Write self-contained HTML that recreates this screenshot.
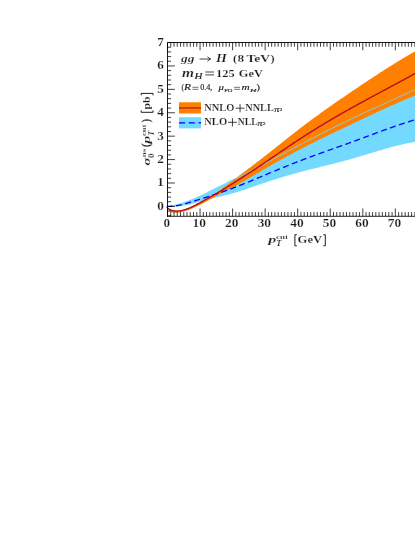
<!DOCTYPE html>
<html><head><meta charset="utf-8"><title>plot</title>
<style>html,body{margin:0;padding:0;background:#fff;}body{width:415px;height:537px;position:relative;overflow:hidden;font-family:"Liberation Serif",serif;}</style>
</head><body>
<svg width="415" height="537" viewBox="0 0 415 537" style="position:absolute;left:0;top:0">
<defs><filter id="idf" x="0" y="0" width="415" height="537" filterUnits="userSpaceOnUse"><feOffset dx="0" dy="0"/></filter></defs>
<path d="M166.80,206.13 L167.21,206.08 L167.63,206.04 L168.04,205.99 L168.45,205.94 L168.87,205.89 L169.28,205.83 L169.69,205.77 L170.11,205.70 L170.52,205.64 L170.93,205.57 L171.35,205.50 L171.76,205.42 L172.17,205.34 L172.59,205.26 L173.00,205.18 L173.41,205.10 L173.83,205.01 L174.24,204.92 L174.65,204.83 L175.07,204.73 L175.48,204.64 L175.89,204.54 L176.31,204.43 L176.72,204.33 L177.13,204.23 L177.55,204.12 L177.96,204.01 L178.37,203.89 L178.79,203.78 L179.20,203.66 L179.61,203.54 L180.03,203.42 L180.44,203.30 L180.85,203.17 L181.27,203.04 L181.68,202.91 L182.09,202.78 L182.51,202.65 L182.92,202.51 L183.33,202.37 L183.75,202.23 L184.16,202.09 L184.57,201.95 L184.99,201.80 L185.40,201.65 L185.81,201.50 L186.23,201.35 L186.64,201.20 L187.05,201.05 L187.47,200.89 L187.88,200.73 L188.29,200.58 L188.71,200.42 L189.12,200.25 L189.53,200.09 L189.95,199.93 L190.36,199.76 L190.77,199.60 L191.19,199.43 L191.60,199.26 L192.01,199.09 L192.43,198.92 L192.84,198.75 L193.25,198.58 L193.67,198.40 L194.08,198.23 L194.49,198.05 L194.91,197.88 L195.32,197.70 L195.73,197.52 L196.15,197.34 L196.56,197.16 L196.97,196.98 L197.39,196.80 L197.80,196.61 L198.21,196.43 L198.63,196.24 L199.04,196.05 L199.45,195.87 L199.87,195.68 L200.28,195.49 L200.69,195.30 L201.11,195.10 L201.52,194.91 L201.93,194.72 L202.35,194.52 L202.76,194.32 L203.17,194.13 L203.59,193.93 L204.00,193.73 L205.07,193.21 L206.14,192.68 L207.21,192.14 L208.28,191.61 L209.35,191.07 L210.42,190.52 L211.49,189.98 L212.56,189.43 L213.63,188.89 L214.70,188.35 L215.77,187.81 L216.84,187.28 L217.91,186.75 L218.98,186.22 L220.06,185.70 L221.13,185.19 L222.20,184.68 L223.27,184.18 L224.34,183.67 L225.41,183.17 L226.48,182.68 L227.55,182.18 L228.62,181.68 L229.69,181.19 L230.76,180.69 L231.83,180.19 L232.90,179.69 L233.97,179.19 L235.04,178.69 L236.11,178.18 L237.18,177.67 L238.25,177.16 L239.32,176.64 L240.39,176.12 L241.46,175.60 L242.53,175.07 L243.60,174.54 L244.67,174.01 L245.74,173.47 L246.81,172.94 L247.88,172.40 L248.95,171.86 L250.03,171.31 L251.10,170.77 L252.17,170.22 L253.24,169.67 L254.31,169.12 L255.38,168.56 L256.45,168.01 L257.52,167.45 L258.59,166.89 L259.66,166.33 L260.73,165.77 L261.80,165.21 L262.87,164.64 L263.94,164.08 L265.01,163.51 L266.08,162.95 L267.15,162.38 L268.22,161.81 L269.29,161.24 L270.36,160.67 L271.43,160.10 L272.50,159.53 L273.57,158.96 L274.64,158.38 L275.71,157.81 L276.78,157.24 L277.85,156.66 L278.92,156.09 L279.99,155.52 L281.07,154.94 L282.14,154.37 L283.21,153.79 L284.28,153.22 L285.35,152.64 L286.42,152.07 L287.49,151.50 L288.56,150.92 L289.63,150.35 L290.70,149.77 L291.77,149.20 L292.84,148.63 L293.91,148.06 L294.98,147.49 L296.05,146.92 L297.12,146.35 L298.19,145.78 L299.26,145.21 L300.33,144.64 L301.40,144.07 L302.47,143.51 L303.54,142.94 L304.61,142.38 L305.68,141.82 L306.75,141.25 L307.82,140.69 L308.89,140.13 L309.96,139.57 L311.04,139.02 L312.11,138.46 L313.18,137.90 L314.25,137.35 L315.32,136.80 L316.39,136.24 L317.46,135.69 L318.53,135.14 L319.60,134.59 L320.67,134.04 L321.74,133.50 L322.81,132.95 L323.88,132.41 L324.95,131.86 L326.02,131.32 L327.09,130.78 L328.16,130.24 L329.23,129.70 L330.30,129.17 L331.37,128.63 L332.44,128.10 L333.51,127.56 L334.58,127.03 L335.65,126.50 L336.72,125.97 L337.79,125.44 L338.86,124.92 L339.93,124.39 L341.01,123.87 L342.08,123.35 L343.15,122.83 L344.22,122.31 L345.29,121.79 L346.36,121.27 L347.43,120.76 L348.50,120.24 L349.57,119.73 L350.64,119.22 L351.71,118.71 L352.78,118.20 L353.85,117.70 L354.92,117.19 L355.99,116.69 L357.06,116.19 L358.13,115.69 L359.20,115.19 L360.27,114.69 L361.34,114.19 L362.41,113.69 L363.48,113.20 L364.55,112.70 L365.62,112.21 L366.69,111.71 L367.76,111.22 L368.83,110.73 L369.90,110.24 L370.97,109.75 L372.05,109.26 L373.12,108.77 L374.19,108.28 L375.26,107.79 L376.33,107.30 L377.40,106.81 L378.47,106.32 L379.54,105.83 L380.61,105.35 L381.68,104.86 L382.75,104.37 L383.82,103.88 L384.89,103.40 L385.96,102.91 L387.03,102.42 L388.10,101.93 L389.17,101.44 L390.24,100.95 L391.31,100.46 L392.38,99.97 L393.45,99.48 L394.52,98.99 L395.59,98.50 L396.66,98.01 L397.73,97.52 L398.80,97.03 L399.87,96.53 L400.94,96.04 L402.02,95.54 L403.09,95.04 L404.16,94.55 L405.23,94.05 L406.30,93.55 L407.37,93.05 L408.44,92.55 L409.51,92.04 L410.58,91.54 L411.65,91.03 L412.72,90.53 L413.79,90.02 L414.86,89.51 L415.93,89.00 L417.00,88.48 L417.00,141.53 L415.93,141.70 L414.86,141.87 L413.79,142.05 L412.72,142.24 L411.65,142.43 L410.58,142.63 L409.51,142.84 L408.44,143.05 L407.37,143.27 L406.30,143.50 L405.23,143.73 L404.16,143.96 L403.09,144.20 L402.02,144.45 L400.94,144.70 L399.87,144.95 L398.80,145.21 L397.73,145.48 L396.66,145.75 L395.59,146.02 L394.52,146.30 L393.45,146.58 L392.38,146.86 L391.31,147.15 L390.24,147.44 L389.17,147.74 L388.10,148.04 L387.03,148.34 L385.96,148.64 L384.89,148.95 L383.82,149.25 L382.75,149.56 L381.68,149.88 L380.61,150.19 L379.54,150.51 L378.47,150.83 L377.40,151.15 L376.33,151.47 L375.26,151.79 L374.19,152.11 L373.12,152.44 L372.05,152.76 L370.97,153.09 L369.90,153.41 L368.83,153.74 L367.76,154.06 L366.69,154.39 L365.62,154.71 L364.55,155.04 L363.48,155.36 L362.41,155.68 L361.34,156.00 L360.27,156.33 L359.20,156.65 L358.13,156.96 L357.06,157.28 L355.99,157.59 L354.92,157.91 L353.85,158.22 L352.78,158.53 L351.71,158.83 L350.64,159.14 L349.57,159.44 L348.50,159.74 L347.43,160.03 L346.36,160.32 L345.29,160.61 L344.22,160.90 L343.15,161.19 L342.08,161.47 L341.01,161.75 L339.93,162.03 L338.86,162.31 L337.79,162.59 L336.72,162.86 L335.65,163.13 L334.58,163.41 L333.51,163.68 L332.44,163.95 L331.37,164.21 L330.30,164.48 L329.23,164.75 L328.16,165.01 L327.09,165.28 L326.02,165.54 L324.95,165.81 L323.88,166.07 L322.81,166.33 L321.74,166.60 L320.67,166.86 L319.60,167.13 L318.53,167.39 L317.46,167.65 L316.39,167.92 L315.32,168.18 L314.25,168.45 L313.18,168.72 L312.11,168.98 L311.04,169.25 L309.96,169.52 L308.89,169.79 L307.82,170.06 L306.75,170.34 L305.68,170.61 L304.61,170.89 L303.54,171.17 L302.47,171.45 L301.40,171.73 L300.33,172.01 L299.26,172.30 L298.19,172.59 L297.12,172.88 L296.05,173.17 L294.98,173.47 L293.91,173.77 L292.84,174.07 L291.77,174.37 L290.70,174.67 L289.63,174.98 L288.56,175.29 L287.49,175.60 L286.42,175.91 L285.35,176.23 L284.28,176.54 L283.21,176.86 L282.14,177.18 L281.07,177.51 L279.99,177.83 L278.92,178.16 L277.85,178.49 L276.78,178.83 L275.71,179.16 L274.64,179.50 L273.57,179.84 L272.50,180.18 L271.43,180.52 L270.36,180.87 L269.29,181.22 L268.22,181.57 L267.15,181.92 L266.08,182.28 L265.01,182.63 L263.94,182.99 L262.87,183.35 L261.80,183.72 L260.73,184.08 L259.66,184.45 L258.59,184.82 L257.52,185.19 L256.45,185.57 L255.38,185.94 L254.31,186.31 L253.24,186.69 L252.17,187.06 L251.10,187.44 L250.03,187.81 L248.95,188.18 L247.88,188.55 L246.81,188.92 L245.74,189.28 L244.67,189.65 L243.60,190.01 L242.53,190.36 L241.46,190.71 L240.39,191.06 L239.32,191.40 L238.25,191.73 L237.18,192.07 L236.11,192.39 L235.04,192.71 L233.97,193.02 L232.90,193.32 L231.83,193.62 L230.76,193.91 L229.69,194.20 L228.62,194.48 L227.55,194.76 L226.48,195.03 L225.41,195.30 L224.34,195.56 L223.27,195.82 L222.20,196.08 L221.13,196.33 L220.06,196.58 L218.98,196.83 L217.91,197.08 L216.84,197.33 L215.77,197.57 L214.70,197.82 L213.63,198.06 L212.56,198.31 L211.49,198.56 L210.42,198.81 L209.35,199.07 L208.28,199.33 L207.21,199.60 L206.14,199.87 L205.07,200.15 L204.00,200.44 L203.59,200.55 L203.17,200.67 L202.76,200.78 L202.35,200.90 L201.93,201.02 L201.52,201.13 L201.11,201.25 L200.69,201.37 L200.28,201.49 L199.87,201.61 L199.45,201.73 L199.04,201.85 L198.63,201.97 L198.21,202.10 L197.80,202.22 L197.39,202.34 L196.97,202.46 L196.56,202.58 L196.15,202.70 L195.73,202.81 L195.32,202.93 L194.91,203.05 L194.49,203.16 L194.08,203.28 L193.67,203.39 L193.25,203.50 L192.84,203.61 L192.43,203.72 L192.01,203.83 L191.60,203.94 L191.19,204.04 L190.77,204.14 L190.36,204.24 L189.95,204.34 L189.53,204.44 L189.12,204.54 L188.71,204.63 L188.29,204.72 L187.88,204.81 L187.47,204.90 L187.05,204.99 L186.64,205.08 L186.23,205.16 L185.81,205.24 L185.40,205.32 L184.99,205.40 L184.57,205.48 L184.16,205.55 L183.75,205.62 L183.33,205.69 L182.92,205.76 L182.51,205.83 L182.09,205.90 L181.68,205.96 L181.27,206.02 L180.85,206.08 L180.44,206.14 L180.03,206.20 L179.61,206.25 L179.20,206.31 L178.79,206.36 L178.37,206.40 L177.96,206.45 L177.55,206.49 L177.13,206.53 L176.72,206.57 L176.31,206.60 L175.89,206.64 L175.48,206.67 L175.07,206.69 L174.65,206.72 L174.24,206.74 L173.83,206.76 L173.41,206.77 L173.00,206.79 L172.59,206.79 L172.17,206.80 L171.76,206.80 L171.35,206.80 L170.93,206.80 L170.52,206.80 L170.11,206.79 L169.69,206.78 L169.28,206.76 L168.87,206.75 L168.45,206.73 L168.04,206.71 L167.63,206.68 L167.21,206.65 L166.80,206.62Z" fill="#73d9ff"/>
<path d="M166.80,206.52 L167.21,206.95 L167.63,207.36 L168.04,207.73 L168.45,208.07 L168.87,208.38 L169.28,208.66 L169.69,208.91 L170.11,209.14 L170.52,209.35 L170.93,209.53 L171.35,209.70 L171.76,209.84 L172.17,209.97 L172.59,210.08 L173.00,210.17 L173.41,210.26 L173.83,210.33 L174.24,210.39 L174.65,210.44 L175.07,210.48 L175.48,210.51 L175.89,210.54 L176.31,210.55 L176.72,210.56 L177.13,210.56 L177.55,210.55 L177.96,210.53 L178.37,210.50 L178.79,210.47 L179.20,210.43 L179.61,210.38 L180.03,210.33 L180.44,210.26 L180.85,210.19 L181.27,210.12 L181.68,210.04 L182.09,209.95 L182.51,209.85 L182.92,209.75 L183.33,209.64 L183.75,209.53 L184.16,209.41 L184.57,209.29 L184.99,209.16 L185.40,209.03 L185.81,208.89 L186.23,208.75 L186.64,208.60 L187.05,208.45 L187.47,208.29 L187.88,208.13 L188.29,207.96 L188.71,207.79 L189.12,207.62 L189.53,207.45 L189.95,207.27 L190.36,207.08 L190.77,206.90 L191.19,206.71 L191.60,206.51 L192.01,206.32 L192.43,206.12 L192.84,205.92 L193.25,205.72 L193.67,205.52 L194.08,205.31 L194.49,205.10 L194.91,204.89 L195.32,204.68 L195.73,204.46 L196.15,204.25 L196.56,204.03 L196.97,203.81 L197.39,203.59 L197.80,203.37 L198.21,203.15 L198.63,202.93 L199.04,202.70 L199.45,202.48 L199.87,202.25 L200.28,202.02 L200.69,201.80 L201.11,201.57 L201.52,201.34 L201.93,201.11 L202.35,200.89 L202.76,200.66 L203.17,200.43 L203.59,200.20 L204.00,199.98 L205.07,199.39 L206.14,198.79 L207.21,198.19 L208.28,197.59 L209.35,197.00 L210.42,196.40 L211.49,195.80 L212.56,195.17 L213.63,194.52 L214.70,193.85 L215.77,193.16 L216.84,192.46 L217.91,191.73 L218.98,190.98 L220.06,190.20 L221.13,189.40 L222.20,188.57 L223.27,187.70 L224.34,186.85 L225.41,186.06 L226.48,185.27 L227.55,184.47 L228.62,183.67 L229.69,182.86 L230.76,182.04 L231.83,181.23 L232.90,180.41 L233.97,179.59 L235.04,178.78 L236.11,177.96 L237.18,177.15 L238.25,176.34 L239.32,175.53 L240.39,174.72 L241.46,173.92 L242.53,173.11 L243.60,172.31 L244.67,171.50 L245.74,170.70 L246.81,169.90 L247.88,169.09 L248.95,168.29 L250.03,167.48 L251.10,166.67 L252.17,165.87 L253.24,165.06 L254.31,164.25 L255.38,163.43 L256.45,162.62 L257.52,161.80 L258.59,160.98 L259.66,160.16 L260.73,159.33 L261.80,158.51 L262.87,157.67 L263.94,156.84 L265.01,156.00 L266.08,155.17 L267.15,154.33 L268.22,153.48 L269.29,152.64 L270.36,151.79 L271.43,150.95 L272.50,150.10 L273.57,149.25 L274.64,148.40 L275.71,147.55 L276.78,146.70 L277.85,145.84 L278.92,144.99 L279.99,144.14 L281.07,143.29 L282.14,142.44 L283.21,141.58 L284.28,140.73 L285.35,139.88 L286.42,139.03 L287.49,138.19 L288.56,137.34 L289.63,136.50 L290.70,135.65 L291.77,134.81 L292.84,133.97 L293.91,133.13 L294.98,132.30 L296.05,131.47 L297.12,130.64 L298.19,129.81 L299.26,128.98 L300.33,128.16 L301.40,127.34 L302.47,126.53 L303.54,125.72 L304.61,124.91 L305.68,124.10 L306.75,123.30 L307.82,122.50 L308.89,121.71 L309.96,120.91 L311.04,120.12 L312.11,119.33 L313.18,118.55 L314.25,117.76 L315.32,116.98 L316.39,116.21 L317.46,115.43 L318.53,114.66 L319.60,113.89 L320.67,113.12 L321.74,112.35 L322.81,111.59 L323.88,110.82 L324.95,110.06 L326.02,109.31 L327.09,108.55 L328.16,107.80 L329.23,107.04 L330.30,106.29 L331.37,105.54 L332.44,104.80 L333.51,104.05 L334.58,103.31 L335.65,102.56 L336.72,101.82 L337.79,101.08 L338.86,100.34 L339.93,99.60 L341.01,98.87 L342.08,98.13 L343.15,97.40 L344.22,96.67 L345.29,95.93 L346.36,95.20 L347.43,94.47 L348.50,93.74 L349.57,93.01 L350.64,92.29 L351.71,91.56 L352.78,90.83 L353.85,90.11 L354.92,89.38 L355.99,88.66 L357.06,87.93 L358.13,87.21 L359.20,86.49 L360.27,85.77 L361.34,85.05 L362.41,84.33 L363.48,83.62 L364.55,82.90 L365.62,82.19 L366.69,81.47 L367.76,80.76 L368.83,80.05 L369.90,79.34 L370.97,78.64 L372.05,77.93 L373.12,77.23 L374.19,76.53 L375.26,75.83 L376.33,75.13 L377.40,74.43 L378.47,73.73 L379.54,73.04 L380.61,72.35 L381.68,71.66 L382.75,70.97 L383.82,70.29 L384.89,69.61 L385.96,68.93 L387.03,68.25 L388.10,67.57 L389.17,66.90 L390.24,66.22 L391.31,65.56 L392.38,64.89 L393.45,64.22 L394.52,63.56 L395.59,62.90 L396.66,62.25 L397.73,61.59 L398.80,60.94 L399.87,60.29 L400.94,59.65 L402.02,59.00 L403.09,58.36 L404.16,57.73 L405.23,57.09 L406.30,56.46 L407.37,55.83 L408.44,55.21 L409.51,54.59 L410.58,53.97 L411.65,53.35 L412.72,52.74 L413.79,52.13 L414.86,51.53 L415.93,50.93 L417.00,50.33 L417.00,94.76 L415.93,95.18 L414.86,95.61 L413.79,96.04 L412.72,96.47 L411.65,96.90 L410.58,97.34 L409.51,97.78 L408.44,98.22 L407.37,98.67 L406.30,99.12 L405.23,99.57 L404.16,100.02 L403.09,100.47 L402.02,100.93 L400.94,101.39 L399.87,101.85 L398.80,102.32 L397.73,102.78 L396.66,103.25 L395.59,103.72 L394.52,104.20 L393.45,104.67 L392.38,105.15 L391.31,105.63 L390.24,106.11 L389.17,106.59 L388.10,107.07 L387.03,107.56 L385.96,108.04 L384.89,108.53 L383.82,109.02 L382.75,109.51 L381.68,110.00 L380.61,110.50 L379.54,110.99 L378.47,111.49 L377.40,111.99 L376.33,112.48 L375.26,112.98 L374.19,113.48 L373.12,113.99 L372.05,114.49 L370.97,114.99 L369.90,115.50 L368.83,116.00 L367.76,116.51 L366.69,117.01 L365.62,117.52 L364.55,118.02 L363.48,118.53 L362.41,119.04 L361.34,119.55 L360.27,120.06 L359.20,120.57 L358.13,121.07 L357.06,121.58 L355.99,122.09 L354.92,122.60 L353.85,123.11 L352.78,123.62 L351.71,124.13 L350.64,124.64 L349.57,125.15 L348.50,125.66 L347.43,126.17 L346.36,126.67 L345.29,127.18 L344.22,127.69 L343.15,128.20 L342.08,128.71 L341.01,129.21 L339.93,129.72 L338.86,130.23 L337.79,130.74 L336.72,131.25 L335.65,131.76 L334.58,132.27 L333.51,132.78 L332.44,133.30 L331.37,133.81 L330.30,134.32 L329.23,134.84 L328.16,135.35 L327.09,135.87 L326.02,136.38 L324.95,136.90 L323.88,137.42 L322.81,137.94 L321.74,138.46 L320.67,138.98 L319.60,139.51 L318.53,140.03 L317.46,140.56 L316.39,141.08 L315.32,141.61 L314.25,142.14 L313.18,142.68 L312.11,143.21 L311.04,143.75 L309.96,144.28 L308.89,144.82 L307.82,145.36 L306.75,145.91 L305.68,146.45 L304.61,147.00 L303.54,147.55 L302.47,148.10 L301.40,148.65 L300.33,149.21 L299.26,149.77 L298.19,150.33 L297.12,150.89 L296.05,151.46 L294.98,152.02 L293.91,152.59 L292.84,153.16 L291.77,153.74 L290.70,154.31 L289.63,154.89 L288.56,155.47 L287.49,156.06 L286.42,156.64 L285.35,157.23 L284.28,157.82 L283.21,158.41 L282.14,159.00 L281.07,159.60 L279.99,160.19 L278.92,160.79 L277.85,161.39 L276.78,161.99 L275.71,162.60 L274.64,163.21 L273.57,163.81 L272.50,164.42 L271.43,165.04 L270.36,165.65 L269.29,166.27 L268.22,166.88 L267.15,167.50 L266.08,168.12 L265.01,168.75 L263.94,169.37 L262.87,170.00 L261.80,170.62 L260.73,171.25 L259.66,171.88 L258.59,172.52 L257.52,173.15 L256.45,173.78 L255.38,174.42 L254.31,175.05 L253.24,175.69 L252.17,176.32 L251.10,176.95 L250.03,177.59 L248.95,178.22 L247.88,178.85 L246.81,179.47 L245.74,180.10 L244.67,180.72 L243.60,181.34 L242.53,181.95 L241.46,182.57 L240.39,183.17 L239.32,183.78 L238.25,184.38 L237.18,184.97 L236.11,185.56 L235.04,186.14 L233.97,186.72 L232.90,187.29 L231.83,187.86 L230.76,188.42 L229.69,188.98 L228.62,189.53 L227.55,190.08 L226.48,190.63 L225.41,191.18 L224.34,191.74 L223.27,192.32 L222.20,192.89 L221.13,193.47 L220.06,194.04 L218.98,194.62 L217.91,195.19 L216.84,195.77 L215.77,196.35 L214.70,196.94 L213.63,197.52 L212.56,198.10 L211.49,198.69 L210.42,199.27 L209.35,199.86 L208.28,200.45 L207.21,201.03 L206.14,201.62 L205.07,202.21 L204.00,202.76 L203.59,202.98 L203.17,203.19 L202.76,203.40 L202.35,203.62 L201.93,203.83 L201.52,204.04 L201.11,204.25 L200.69,204.47 L200.28,204.68 L199.87,204.88 L199.45,205.09 L199.04,205.30 L198.63,205.51 L198.21,205.71 L197.80,205.92 L197.39,206.12 L196.97,206.32 L196.56,206.52 L196.15,206.72 L195.73,206.91 L195.32,207.11 L194.91,207.30 L194.49,207.49 L194.08,207.68 L193.67,207.87 L193.25,208.05 L192.84,208.23 L192.43,208.41 L192.01,208.59 L191.60,208.76 L191.19,208.93 L190.77,209.10 L190.36,209.27 L189.95,209.43 L189.53,209.59 L189.12,209.75 L188.71,209.90 L188.29,210.05 L187.88,210.20 L187.47,210.35 L187.05,210.49 L186.64,210.63 L186.23,210.76 L185.81,210.89 L185.40,211.02 L184.99,211.14 L184.57,211.26 L184.16,211.38 L183.75,211.49 L183.33,211.60 L182.92,211.71 L182.51,211.81 L182.09,211.91 L181.68,212.00 L181.27,212.09 L180.85,212.17 L180.44,212.25 L180.03,212.33 L179.61,212.40 L179.20,212.46 L178.79,212.52 L178.37,212.57 L177.96,212.62 L177.55,212.66 L177.13,212.69 L176.72,212.72 L176.31,212.74 L175.89,212.75 L175.48,212.75 L175.07,212.75 L174.65,212.74 L174.24,212.72 L173.83,212.69 L173.41,212.65 L173.00,212.60 L172.59,212.53 L172.17,212.44 L171.76,212.32 L171.35,212.18 L170.93,212.00 L170.52,211.78 L170.11,211.53 L169.69,211.23 L169.28,210.88 L168.87,210.48 L168.45,210.03 L168.04,209.51 L167.63,208.94 L167.21,208.29 L166.80,207.58Z" fill="#ff8000"/>
<path d="M226.48,182.68 L227.55,182.18 L228.62,181.68 L229.69,181.19 L230.76,180.69 L231.83,180.19 L232.90,179.69 L233.97,179.19 L235.04,178.69 L236.11,178.18 L237.18,177.67 L238.25,177.16 L239.32,176.64 L240.39,176.12 L241.46,175.60 L242.53,175.07 L243.60,174.54 L244.67,174.01 L245.74,173.47 L246.81,172.94 L247.88,172.40 L248.95,171.86 L250.03,171.31 L251.10,170.77 L252.17,170.22 L253.24,169.67 L254.31,169.12 L255.38,168.56 L256.45,168.01 L257.52,167.45 L258.59,166.89 L259.66,166.33 L260.73,165.77 L261.80,165.21 L262.87,164.64 L263.94,164.08 L265.01,163.51 L266.08,162.95 L267.15,162.38 L268.22,161.81 L269.29,161.24 L270.36,160.67 L271.43,160.10 L272.50,159.53 L273.57,158.96 L274.64,158.38 L275.71,157.81 L276.78,157.24 L277.85,156.66 L278.92,156.09 L279.99,155.52 L281.07,154.94 L282.14,154.37 L283.21,153.79 L284.28,153.22 L285.35,152.64 L286.42,152.07 L287.49,151.50 L288.56,150.92 L289.63,150.35 L290.70,149.77 L291.77,149.20 L292.84,148.63 L293.91,148.06 L294.98,147.49 L296.05,146.92 L297.12,146.35 L298.19,145.78 L299.26,145.21 L300.33,144.64 L301.40,144.07 L302.47,143.51 L303.54,142.94 L304.61,142.38 L305.68,141.82 L306.75,141.25 L307.82,140.69 L308.89,140.13 L309.96,139.57 L311.04,139.02 L312.11,138.46 L313.18,137.90 L314.25,137.35 L315.32,136.80 L316.39,136.24 L317.46,135.69 L318.53,135.14 L319.60,134.59 L320.67,134.04 L321.74,133.50 L322.81,132.95 L323.88,132.41 L324.95,131.86 L326.02,131.32 L327.09,130.78 L328.16,130.24 L329.23,129.70 L330.30,129.17 L331.37,128.63 L332.44,128.10 L333.51,127.56 L334.58,127.03 L335.65,126.50 L336.72,125.97 L337.79,125.44 L338.86,124.92 L339.93,124.39 L341.01,123.87 L342.08,123.35 L343.15,122.83 L344.22,122.31 L345.29,121.79 L346.36,121.27 L347.43,120.76 L348.50,120.24 L349.57,119.73 L350.64,119.22 L351.71,118.71 L352.78,118.20 L353.85,117.70 L354.92,117.19 L355.99,116.69 L357.06,116.19 L358.13,115.69 L359.20,115.19 L360.27,114.69 L361.34,114.19 L362.41,113.69 L363.48,113.20 L364.55,112.70 L365.62,112.21 L366.69,111.71 L367.76,111.22 L368.83,110.73 L369.90,110.24 L370.97,109.75 L372.05,109.26 L373.12,108.77 L374.19,108.28 L375.26,107.79 L376.33,107.30 L377.40,106.81 L378.47,106.32 L379.54,105.83 L380.61,105.35 L381.68,104.86 L382.75,104.37 L383.82,103.88 L384.89,103.40 L385.96,102.91 L387.03,102.42 L388.10,101.93 L389.17,101.44 L390.24,100.95 L391.31,100.46 L392.38,99.97 L393.45,99.48 L394.52,98.99 L395.59,98.50 L396.66,98.01 L397.73,97.52 L398.80,97.03 L399.87,96.53 L400.94,96.04 L402.02,95.54 L403.09,95.04 L404.16,94.55 L405.23,94.05 L406.30,93.55 L407.37,93.05 L408.44,92.55 L409.51,92.04 L410.58,91.54 L411.65,91.03 L412.72,90.53 L413.79,90.02 L414.86,89.51 L415.93,89.00 L417.00,88.48" fill="none" stroke="#73d9ff" stroke-width="0.95"/>
<path d="M166.80,206.23 L167.21,206.26 L167.63,206.28 L168.04,206.29 L168.45,206.30 L168.87,206.31 L169.28,206.31 L169.69,206.31 L170.11,206.30 L170.52,206.29 L170.93,206.27 L171.35,206.25 L171.76,206.23 L172.17,206.20 L172.59,206.17 L173.00,206.14 L173.41,206.10 L173.83,206.05 L174.24,206.01 L174.65,205.96 L175.07,205.91 L175.48,205.85 L175.89,205.79 L176.31,205.73 L176.72,205.67 L177.13,205.60 L177.55,205.53 L177.96,205.45 L178.37,205.38 L178.79,205.30 L179.20,205.21 L179.61,205.13 L180.03,205.04 L180.44,204.95 L180.85,204.86 L181.27,204.76 L181.68,204.67 L182.09,204.57 L182.51,204.47 L182.92,204.36 L183.33,204.25 L183.75,204.15 L184.16,204.04 L184.57,203.92 L184.99,203.81 L185.40,203.70 L185.81,203.58 L186.23,203.46 L186.64,203.34 L187.05,203.22 L187.47,203.10 L187.88,202.97 L188.29,202.85 L188.71,202.72 L189.12,202.60 L189.53,202.47 L189.95,202.35 L190.36,202.22 L190.77,202.09 L191.19,201.96 L191.60,201.83 L192.01,201.70 L192.43,201.57 L192.84,201.45 L193.25,201.32 L193.67,201.19 L194.08,201.06 L194.49,200.93 L194.91,200.80 L195.32,200.67 L195.73,200.54 L196.15,200.41 L196.56,200.28 L196.97,200.15 L197.39,200.02 L197.80,199.89 L198.21,199.76 L198.63,199.63 L199.04,199.50 L199.45,199.37 L199.87,199.24 L200.28,199.11 L200.69,198.98 L201.11,198.85 L201.52,198.72 L201.93,198.59 L202.35,198.46 L202.76,198.33 L203.17,198.20 L203.59,198.07 L204.00,197.94 L205.07,197.60 L206.14,197.26 L207.21,196.92 L208.28,196.57 L209.35,196.23 L210.42,195.89 L211.49,195.54 L212.56,195.19 L213.63,194.85 L214.70,194.49 L215.77,194.14 L216.84,193.79 L217.91,193.43 L218.98,193.07 L220.06,192.71 L221.13,192.34 L222.20,191.97 L223.27,191.60 L224.34,191.23 L225.41,190.85 L226.48,190.47 L227.55,190.09 L228.62,189.70 L229.69,189.31 L230.76,188.92 L231.83,188.53 L232.90,188.13 L233.97,187.72 L235.04,187.32 L236.11,186.91 L237.18,186.49 L238.25,186.07 L239.32,185.65 L240.39,185.23 L241.46,184.80 L242.53,184.37 L243.60,183.94 L244.67,183.51 L245.74,183.07 L246.81,182.63 L247.88,182.19 L248.95,181.75 L250.03,181.31 L251.10,180.86 L252.17,180.41 L253.24,179.97 L254.31,179.52 L255.38,179.07 L256.45,178.62 L257.52,178.17 L258.59,177.72 L259.66,177.27 L260.73,176.82 L261.80,176.37 L262.87,175.92 L263.94,175.47 L265.01,175.02 L266.08,174.57 L267.15,174.12 L268.22,173.67 L269.29,173.22 L270.36,172.77 L271.43,172.33 L272.50,171.88 L273.57,171.43 L274.64,170.99 L275.71,170.55 L276.78,170.10 L277.85,169.66 L278.92,169.22 L279.99,168.78 L281.07,168.34 L282.14,167.90 L283.21,167.47 L284.28,167.03 L285.35,166.60 L286.42,166.16 L287.49,165.73 L288.56,165.30 L289.63,164.87 L290.70,164.45 L291.77,164.02 L292.84,163.60 L293.91,163.17 L294.98,162.75 L296.05,162.34 L297.12,161.92 L298.19,161.50 L299.26,161.09 L300.33,160.68 L301.40,160.27 L302.47,159.87 L303.54,159.46 L304.61,159.06 L305.68,158.66 L306.75,158.26 L307.82,157.86 L308.89,157.46 L309.96,157.07 L311.04,156.67 L312.11,156.28 L313.18,155.89 L314.25,155.50 L315.32,155.11 L316.39,154.72 L317.46,154.34 L318.53,153.95 L319.60,153.57 L320.67,153.18 L321.74,152.80 L322.81,152.42 L323.88,152.04 L324.95,151.65 L326.02,151.27 L327.09,150.89 L328.16,150.51 L329.23,150.13 L330.30,149.75 L331.37,149.37 L332.44,148.99 L333.51,148.61 L334.58,148.23 L335.65,147.85 L336.72,147.47 L337.79,147.09 L338.86,146.71 L339.93,146.33 L341.01,145.95 L342.08,145.57 L343.15,145.18 L344.22,144.80 L345.29,144.41 L346.36,144.03 L347.43,143.64 L348.50,143.26 L349.57,142.87 L350.64,142.48 L351.71,142.09 L352.78,141.70 L353.85,141.30 L354.92,140.91 L355.99,140.52 L357.06,140.12 L358.13,139.73 L359.20,139.33 L360.27,138.93 L361.34,138.54 L362.41,138.14 L363.48,137.74 L364.55,137.34 L365.62,136.95 L366.69,136.55 L367.76,136.15 L368.83,135.75 L369.90,135.35 L370.97,134.96 L372.05,134.56 L373.12,134.16 L374.19,133.77 L375.26,133.37 L376.33,132.97 L377.40,132.58 L378.47,132.19 L379.54,131.79 L380.61,131.40 L381.68,131.01 L382.75,130.62 L383.82,130.23 L384.89,129.84 L385.96,129.46 L387.03,129.07 L388.10,128.69 L389.17,128.30 L390.24,127.92 L391.31,127.54 L392.38,127.17 L393.45,126.79 L394.52,126.42 L395.59,126.05 L396.66,125.68 L397.73,125.31 L398.80,124.94 L399.87,124.58 L400.94,124.22 L402.02,123.86 L403.09,123.51 L404.16,123.15 L405.23,122.80 L406.30,122.45 L407.37,122.11 L408.44,121.76 L409.51,121.42 L410.58,121.09 L411.65,120.75 L412.72,120.42 L413.79,120.10 L414.86,119.77 L415.93,119.45 L417.00,119.13" fill="none" stroke="#0000ff" stroke-width="1.3" stroke-dasharray="6.0 3.5" stroke-dashoffset="0.4"/>
<path d="M166.80,207.07 L167.21,207.50 L167.63,207.91 L168.04,208.28 L168.45,208.62 L168.87,208.93 L169.28,209.21 L169.69,209.46 L170.11,209.69 L170.52,209.90 L170.93,210.08 L171.35,210.25 L171.76,210.39 L172.17,210.52 L172.59,210.63 L173.00,210.72 L173.41,210.81 L173.83,210.88 L174.24,210.94 L174.65,210.99 L175.07,211.03 L175.48,211.06 L175.89,211.09 L176.31,211.10 L176.72,211.11 L177.13,211.11 L177.55,211.10 L177.96,211.08 L178.37,211.05 L178.79,211.02 L179.20,210.98 L179.61,210.93 L180.03,210.88 L180.44,210.81 L180.85,210.74 L181.27,210.67 L181.68,210.59 L182.09,210.50 L182.51,210.40 L182.92,210.30 L183.33,210.19 L183.75,210.08 L184.16,209.96 L184.57,209.84 L184.99,209.71 L185.40,209.58 L185.81,209.44 L186.23,209.30 L186.64,209.15 L187.05,209.00 L187.47,208.84 L187.88,208.68 L188.29,208.51 L188.71,208.34 L189.12,208.17 L189.53,208.00 L189.95,207.82 L190.36,207.63 L190.77,207.45 L191.19,207.26 L191.60,207.06 L192.01,206.87 L192.43,206.67 L192.84,206.47 L193.25,206.27 L193.67,206.07 L194.08,205.86 L194.49,205.65 L194.91,205.44 L195.32,205.23 L195.73,205.01 L196.15,204.80 L196.56,204.58 L196.97,204.36 L197.39,204.14 L197.80,203.92 L198.21,203.70 L198.63,203.48 L199.04,203.25 L199.45,203.03 L199.87,202.80 L200.28,202.57 L200.69,202.35 L201.11,202.12 L201.52,201.89 L201.93,201.66 L202.35,201.44 L202.76,201.21 L203.17,200.98 L203.59,200.75 L204.00,200.53 L205.07,199.94 L206.14,199.34 L207.21,198.74 L208.28,198.14 L209.35,197.55 L210.42,196.95 L211.49,196.35 L212.56,195.74 L213.63,195.14 L214.70,194.53 L215.77,193.91 L216.84,193.30 L217.91,192.67 L218.98,192.04 L220.06,191.40 L221.13,190.75 L222.20,190.10 L223.27,189.44 L224.34,188.78 L225.41,188.12 L226.48,187.46 L227.55,186.80 L228.62,186.14 L229.69,185.47 L230.76,184.80 L231.83,184.13 L232.90,183.45 L233.97,182.78 L235.04,182.10 L236.11,181.42 L237.18,180.74 L238.25,180.05 L239.32,179.37 L240.39,178.68 L241.46,178.00 L242.53,177.31 L243.60,176.62 L244.67,175.93 L245.74,175.24 L246.81,174.54 L247.88,173.85 L248.95,173.15 L250.03,172.45 L251.10,171.75 L252.17,171.05 L253.24,170.35 L254.31,169.64 L255.38,168.94 L256.45,168.23 L257.52,167.52 L258.59,166.80 L259.66,166.09 L260.73,165.37 L261.80,164.66 L262.87,163.94 L263.94,163.22 L265.01,162.49 L266.08,161.77 L267.15,161.04 L268.22,160.32 L269.29,159.59 L270.36,158.86 L271.43,158.14 L272.50,157.41 L273.57,156.68 L274.64,155.95 L275.71,155.22 L276.78,154.49 L277.85,153.76 L278.92,153.03 L279.99,152.30 L281.07,151.57 L282.14,150.84 L283.21,150.11 L284.28,149.39 L285.35,148.66 L286.42,147.94 L287.49,147.21 L288.56,146.49 L289.63,145.77 L290.70,145.05 L291.77,144.33 L292.84,143.62 L293.91,142.90 L294.98,142.19 L296.05,141.48 L297.12,140.77 L298.19,140.07 L299.26,139.37 L300.33,138.67 L301.40,137.97 L302.47,137.28 L303.54,136.58 L304.61,135.89 L305.68,135.21 L306.75,134.52 L307.82,133.84 L308.89,133.17 L309.96,132.49 L311.04,131.82 L312.11,131.14 L313.18,130.48 L314.25,129.81 L315.32,129.15 L316.39,128.49 L317.46,127.83 L318.53,127.17 L319.60,126.52 L320.67,125.86 L321.74,125.21 L322.81,124.57 L323.88,123.92 L324.95,123.28 L326.02,122.64 L327.09,122.00 L328.16,121.36 L329.23,120.73 L330.30,120.10 L331.37,119.47 L332.44,118.84 L333.51,118.21 L334.58,117.59 L335.65,116.96 L336.72,116.34 L337.79,115.73 L338.86,115.11 L339.93,114.49 L341.01,113.88 L342.08,113.27 L343.15,112.66 L344.22,112.05 L345.29,111.45 L346.36,110.84 L347.43,110.24 L348.50,109.64 L349.57,109.04 L350.64,108.44 L351.71,107.85 L352.78,107.25 L353.85,106.66 L354.92,106.07 L355.99,105.48 L357.06,104.89 L358.13,104.30 L359.20,103.71 L360.27,103.13 L361.34,102.54 L362.41,101.96 L363.48,101.38 L364.55,100.80 L365.62,100.22 L366.69,99.64 L367.76,99.06 L368.83,98.48 L369.90,97.90 L370.97,97.33 L372.05,96.75 L373.12,96.17 L374.19,95.60 L375.26,95.02 L376.33,94.45 L377.40,93.88 L378.47,93.30 L379.54,92.73 L380.61,92.15 L381.68,91.58 L382.75,91.01 L383.82,90.43 L384.89,89.86 L385.96,89.29 L387.03,88.71 L388.10,88.14 L389.17,87.57 L390.24,86.99 L391.31,86.42 L392.38,85.84 L393.45,85.27 L394.52,84.69 L395.59,84.11 L396.66,83.54 L397.73,82.96 L398.80,82.38 L399.87,81.80 L400.94,81.22 L402.02,80.64 L403.09,80.06 L404.16,79.48 L405.23,78.89 L406.30,78.31 L407.37,77.72 L408.44,77.13 L409.51,76.55 L410.58,75.96 L411.65,75.37 L412.72,74.77 L413.79,74.18 L414.86,73.58 L415.93,72.99 L417.00,72.39" fill="none" stroke="#b40a1e" stroke-width="1.35"/>
<path d="M167.5,216.8 V42.5 H417 " fill="none" stroke="#000" stroke-width="0.9"/>
<path d="M167.0,216.3 H417" fill="none" stroke="#000" stroke-width="0.85"/>
<path d="M167.50,216.3 v-7.8 M167.50,42.5 v7.8 M170.75,216.3 v-4.25 M170.75,42.5 v4.25 M174.01,216.3 v-4.25 M174.01,42.5 v4.25 M177.26,216.3 v-4.25 M177.26,42.5 v4.25 M180.52,216.3 v-4.25 M180.52,42.5 v4.25 M183.78,216.3 v-4.25 M183.78,42.5 v4.25 M187.03,216.3 v-4.25 M187.03,42.5 v4.25 M190.28,216.3 v-4.25 M190.28,42.5 v4.25 M193.54,216.3 v-4.25 M193.54,42.5 v4.25 M196.79,216.3 v-4.25 M196.79,42.5 v4.25 M200.05,216.3 v-7.8 M200.05,42.5 v7.8 M203.31,216.3 v-4.25 M203.31,42.5 v4.25 M206.56,216.3 v-4.25 M206.56,42.5 v4.25 M209.81,216.3 v-4.25 M209.81,42.5 v4.25 M213.07,216.3 v-4.25 M213.07,42.5 v4.25 M216.32,216.3 v-4.25 M216.32,42.5 v4.25 M219.58,216.3 v-4.25 M219.58,42.5 v4.25 M222.84,216.3 v-4.25 M222.84,42.5 v4.25 M226.09,216.3 v-4.25 M226.09,42.5 v4.25 M229.34,216.3 v-4.25 M229.34,42.5 v4.25 M232.60,216.3 v-7.8 M232.60,42.5 v7.8 M235.86,216.3 v-4.25 M235.86,42.5 v4.25 M239.11,216.3 v-4.25 M239.11,42.5 v4.25 M242.37,216.3 v-4.25 M242.37,42.5 v4.25 M245.62,216.3 v-4.25 M245.62,42.5 v4.25 M248.88,216.3 v-4.25 M248.88,42.5 v4.25 M252.13,216.3 v-4.25 M252.13,42.5 v4.25 M255.38,216.3 v-4.25 M255.38,42.5 v4.25 M258.64,216.3 v-4.25 M258.64,42.5 v4.25 M261.89,216.3 v-4.25 M261.89,42.5 v4.25 M265.15,216.3 v-7.8 M265.15,42.5 v7.8 M268.40,216.3 v-4.25 M268.40,42.5 v4.25 M271.66,216.3 v-4.25 M271.66,42.5 v4.25 M274.91,216.3 v-4.25 M274.91,42.5 v4.25 M278.17,216.3 v-4.25 M278.17,42.5 v4.25 M281.43,216.3 v-4.25 M281.43,42.5 v4.25 M284.68,216.3 v-4.25 M284.68,42.5 v4.25 M287.94,216.3 v-4.25 M287.94,42.5 v4.25 M291.19,216.3 v-4.25 M291.19,42.5 v4.25 M294.44,216.3 v-4.25 M294.44,42.5 v4.25 M297.70,216.3 v-7.8 M297.70,42.5 v7.8 M300.95,216.3 v-4.25 M300.95,42.5 v4.25 M304.21,216.3 v-4.25 M304.21,42.5 v4.25 M307.47,216.3 v-4.25 M307.47,42.5 v4.25 M310.72,216.3 v-4.25 M310.72,42.5 v4.25 M313.98,216.3 v-4.25 M313.98,42.5 v4.25 M317.23,216.3 v-4.25 M317.23,42.5 v4.25 M320.49,216.3 v-4.25 M320.49,42.5 v4.25 M323.74,216.3 v-4.25 M323.74,42.5 v4.25 M327.00,216.3 v-4.25 M327.00,42.5 v4.25 M330.25,216.3 v-7.8 M330.25,42.5 v7.8 M333.50,216.3 v-4.25 M333.50,42.5 v4.25 M336.76,216.3 v-4.25 M336.76,42.5 v4.25 M340.01,216.3 v-4.25 M340.01,42.5 v4.25 M343.27,216.3 v-4.25 M343.27,42.5 v4.25 M346.52,216.3 v-4.25 M346.52,42.5 v4.25 M349.78,216.3 v-4.25 M349.78,42.5 v4.25 M353.03,216.3 v-4.25 M353.03,42.5 v4.25 M356.29,216.3 v-4.25 M356.29,42.5 v4.25 M359.54,216.3 v-4.25 M359.54,42.5 v4.25 M362.80,216.3 v-7.8 M362.80,42.5 v7.8 M366.06,216.3 v-4.25 M366.06,42.5 v4.25 M369.31,216.3 v-4.25 M369.31,42.5 v4.25 M372.56,216.3 v-4.25 M372.56,42.5 v4.25 M375.82,216.3 v-4.25 M375.82,42.5 v4.25 M379.07,216.3 v-4.25 M379.07,42.5 v4.25 M382.33,216.3 v-4.25 M382.33,42.5 v4.25 M385.58,216.3 v-4.25 M385.58,42.5 v4.25 M388.84,216.3 v-4.25 M388.84,42.5 v4.25 M392.10,216.3 v-4.25 M392.10,42.5 v4.25 M395.35,216.3 v-7.8 M395.35,42.5 v7.8 M398.61,216.3 v-4.25 M398.61,42.5 v4.25 M401.86,216.3 v-4.25 M401.86,42.5 v4.25 M405.12,216.3 v-4.25 M405.12,42.5 v4.25 M408.37,216.3 v-4.25 M408.37,42.5 v4.25 M411.62,216.3 v-4.25 M411.62,42.5 v4.25 M414.88,216.3 v-4.25 M414.88,42.5 v4.25 M418.13,216.3 v-4.25 M418.13,42.5 v4.25 M421.39,216.3 v-4.25 M421.39,42.5 v4.25 M424.64,216.3 v-4.25 M424.64,42.5 v4.25 M167.5,215.76 h3.6 M167.5,211.08 h3.6 M167.5,206.40 h7.4 M167.5,201.72 h3.6 M167.5,197.04 h3.6 M167.5,192.35 h3.6 M167.5,187.67 h3.6 M167.5,182.99 h7.4 M167.5,178.31 h3.6 M167.5,173.63 h3.6 M167.5,168.94 h3.6 M167.5,164.26 h3.6 M167.5,159.58 h7.4 M167.5,154.90 h3.6 M167.5,150.22 h3.6 M167.5,145.53 h3.6 M167.5,140.85 h3.6 M167.5,136.17 h7.4 M167.5,131.49 h3.6 M167.5,126.81 h3.6 M167.5,122.12 h3.6 M167.5,117.44 h3.6 M167.5,112.76 h7.4 M167.5,108.08 h3.6 M167.5,103.40 h3.6 M167.5,98.71 h3.6 M167.5,94.03 h3.6 M167.5,89.35 h7.4 M167.5,84.67 h3.6 M167.5,79.99 h3.6 M167.5,75.30 h3.6 M167.5,70.62 h3.6 M167.5,65.94 h7.4 M167.5,61.26 h3.6 M167.5,56.58 h3.6 M167.5,51.89 h3.6 M167.5,47.21 h3.6 M167.5,42.53 h7.4" fill="none" stroke="#000" stroke-width="0.75"/>
<rect x="179" y="102.3" width="22" height="11.2" fill="#ff8000"/>
<path d="M179,107.95 H201" stroke="#b40a1e" stroke-width="1.15"/>
<rect x="179" y="117.2" width="22" height="11.2" fill="#73d9ff"/>
<path d="M179,122.9 H201" stroke="#0000ff" stroke-width="1.4" stroke-dasharray="6.1 3.7"/>
<g font-family="Liberation Serif" font-weight="bold" fill="#1c1c1c" stroke="#fff" stroke-width="0.16" filter="url(#idf)">
<text x="157.30" y="209.80" font-size="11.5" textLength="6.60" lengthAdjust="spacingAndGlyphs">0</text>
<text x="157.30" y="186.39" font-size="11.5" textLength="6.60" lengthAdjust="spacingAndGlyphs">1</text>
<text x="157.30" y="162.98" font-size="11.5" textLength="6.60" lengthAdjust="spacingAndGlyphs">2</text>
<text x="157.30" y="139.57" font-size="11.5" textLength="6.60" lengthAdjust="spacingAndGlyphs">3</text>
<text x="157.30" y="116.16" font-size="11.5" textLength="6.60" lengthAdjust="spacingAndGlyphs">4</text>
<text x="157.30" y="92.75" font-size="11.5" textLength="6.60" lengthAdjust="spacingAndGlyphs">5</text>
<text x="157.30" y="69.34" font-size="11.5" textLength="6.60" lengthAdjust="spacingAndGlyphs">6</text>
<text x="157.30" y="45.93" font-size="11.5" textLength="6.60" lengthAdjust="spacingAndGlyphs">7</text>
<text x="163.40" y="226.70" font-size="11.5" textLength="6.60" lengthAdjust="spacingAndGlyphs">0</text>
<text x="192.55" y="226.70" font-size="11.5" textLength="13.40" lengthAdjust="spacingAndGlyphs">10</text>
<text x="225.10" y="226.70" font-size="11.5" textLength="13.40" lengthAdjust="spacingAndGlyphs">20</text>
<text x="257.65" y="226.70" font-size="11.5" textLength="13.40" lengthAdjust="spacingAndGlyphs">30</text>
<text x="290.20" y="226.70" font-size="11.5" textLength="13.40" lengthAdjust="spacingAndGlyphs">40</text>
<text x="322.75" y="226.70" font-size="11.5" textLength="13.40" lengthAdjust="spacingAndGlyphs">50</text>
<text x="355.30" y="226.70" font-size="11.5" textLength="13.40" lengthAdjust="spacingAndGlyphs">60</text>
<text x="387.85" y="226.70" font-size="11.5" textLength="13.40" lengthAdjust="spacingAndGlyphs">70</text>
<text x="181.10" y="61.80" font-size="11.2" font-style="italic" textLength="13.40" lengthAdjust="spacingAndGlyphs">gg</text>
<path d="M199.6,59 H210.2 M207.6,56.6 Q208.6,58.4 210.6,59 Q208.6,59.6 207.6,61.4" fill="none" stroke="#111" stroke-width="0.8"/>
<text x="216.00" y="61.90" font-size="11.7" font-style="italic" textLength="10.80" lengthAdjust="spacingAndGlyphs">H</text>
<text x="233.00" y="61.80" font-size="10.7" textLength="4.00" lengthAdjust="spacingAndGlyphs">(</text>
<text x="237.40" y="61.80" font-size="10.7" textLength="6.60" lengthAdjust="spacingAndGlyphs">8</text>
<text x="246.40" y="61.80" font-size="10.7" textLength="23.60" lengthAdjust="spacingAndGlyphs">TeV</text>
<text x="270.50" y="61.80" font-size="10.7" textLength="4.10" lengthAdjust="spacingAndGlyphs">)</text>
<text x="182.00" y="76.60" font-size="11.7" font-style="italic" textLength="12.00" lengthAdjust="spacingAndGlyphs">m</text>
<text x="194.50" y="78.50" font-size="7.3" font-style="italic" font-weight="normal" stroke="#1c1c1c" stroke-width="0.14" textLength="7.90" lengthAdjust="spacingAndGlyphs">H</text>
<path d="M205.3,72.0 H214 M205.3,74.9 H214" fill="none" stroke="#111" stroke-width="0.8"/>
<text x="216.00" y="76.60" font-size="10.7" textLength="18.60" lengthAdjust="spacingAndGlyphs">125</text>
<text x="238.80" y="76.60" font-size="10.7" textLength="24.00" lengthAdjust="spacingAndGlyphs">GeV</text>
<text x="181.50" y="90.40" font-size="7.4" font-weight="normal" stroke="#1c1c1c" stroke-width="0.14" textLength="2.50" lengthAdjust="spacingAndGlyphs">(</text>
<text x="184.00" y="90.40" font-size="7.4" font-style="italic" font-weight="normal" stroke="#1c1c1c" stroke-width="0.14" textLength="7.00" lengthAdjust="spacingAndGlyphs">R</text>
<path d="M192.4,87.3 H198.4 M192.4,89.3 H198.4" fill="none" stroke="#111" stroke-width="0.6"/>
<text x="200.20" y="90.40" font-size="7.4" font-weight="normal" stroke="#1c1c1c" stroke-width="0.14" textLength="12.20" lengthAdjust="spacingAndGlyphs">0.4,</text>
<text x="218.60" y="90.40" font-size="7.4" font-style="italic" font-weight="normal" stroke="#1c1c1c" stroke-width="0.14" textLength="5.40" lengthAdjust="spacingAndGlyphs">μ</text>
<text x="224.20" y="91.60" font-size="4.8" font-weight="normal" stroke="#1c1c1c" stroke-width="0.14" textLength="8.20" lengthAdjust="spacingAndGlyphs">FO</text>
<path d="M234.1,87.3 H240.1 M234.1,89.3 H240.1" fill="none" stroke="#111" stroke-width="0.6"/>
<text x="241.40" y="90.40" font-size="7.4" font-style="italic" font-weight="normal" stroke="#1c1c1c" stroke-width="0.14" textLength="8.20" lengthAdjust="spacingAndGlyphs">m</text>
<text x="250.00" y="91.60" font-size="4.8" font-style="italic" font-weight="normal" stroke="#1c1c1c" stroke-width="0.14" textLength="6.40" lengthAdjust="spacingAndGlyphs">H</text>
<text x="256.60" y="90.40" font-size="7.4" font-weight="normal" stroke="#1c1c1c" stroke-width="0.14" textLength="3.40" lengthAdjust="spacingAndGlyphs">)</text>
<text x="204.20" y="110.90" font-size="9.4" textLength="30.20" lengthAdjust="spacingAndGlyphs">NNLO</text>
<path d="M235.6,108.2 H244.5 M240.05,104.1 V112.3" fill="none" stroke="#111" stroke-width="0.8"/>
<text x="245.30" y="110.90" font-size="9.4" textLength="28.50" lengthAdjust="spacingAndGlyphs">NNLL</text>
<text x="274.20" y="112.30" font-size="7.2" font-style="italic" font-weight="normal" stroke="#1c1c1c" stroke-width="0.14" textLength="5.10" lengthAdjust="spacingAndGlyphs">π</text>
<text x="279.50" y="110.50" font-size="4.6" font-weight="normal" stroke="#1c1c1c" stroke-width="0.14" textLength="2.80" lengthAdjust="spacingAndGlyphs">2</text>
<text x="204.20" y="125.00" font-size="9.4" textLength="23.00" lengthAdjust="spacingAndGlyphs">NLO</text>
<path d="M228.0,122.3 H236.9 M232.45,118.2 V126.4" fill="none" stroke="#111" stroke-width="0.8"/>
<text x="237.80" y="125.00" font-size="9.4" textLength="19.80" lengthAdjust="spacingAndGlyphs">NLL</text>
<text x="257.50" y="126.40" font-size="7.2" font-style="italic" font-weight="normal" stroke="#1c1c1c" stroke-width="0.14" textLength="5.10" lengthAdjust="spacingAndGlyphs">π</text>
<text x="262.80" y="124.60" font-size="4.6" font-weight="normal" stroke="#1c1c1c" stroke-width="0.14" textLength="2.80" lengthAdjust="spacingAndGlyphs">2</text>
<text x="268.30" y="243.20" font-size="10.7" font-style="italic" textLength="8.00" lengthAdjust="spacingAndGlyphs">p</text>
<text x="275.90" y="246.40" font-size="7.5" font-style="italic" textLength="5.70" lengthAdjust="spacingAndGlyphs">T</text>
<text x="276.00" y="238.90" font-size="7.0" textLength="12.10" lengthAdjust="spacingAndGlyphs">cut</text>
<path d="M296.80,234.70 H294.90 V245.80 H296.80" fill="none" stroke="#1c1c1c" stroke-width="1.0"/>
<text x="297.60" y="243.20" font-size="10.7" textLength="24.60" lengthAdjust="spacingAndGlyphs">GeV</text>
<path d="M323.40,234.70 H325.30 V245.80 H323.40" fill="none" stroke="#1c1c1c" stroke-width="1.0"/>
<g transform="translate(150.0,166) rotate(-90)">
<text x="0.20" y="0.00" font-size="10.7" font-style="italic" textLength="8.20" lengthAdjust="spacingAndGlyphs">σ</text>
<text x="7.90" y="3.50" font-size="7.2" textLength="4.50" lengthAdjust="spacingAndGlyphs">0</text>
<text x="8.80" y="-4.30" font-size="7.0" textLength="8.40" lengthAdjust="spacingAndGlyphs">ns</text>
<text x="18.40" y="0.40" font-size="11.899999999999999" textLength="4.40" lengthAdjust="spacingAndGlyphs">(</text>
<text x="22.20" y="0.00" font-size="10.7" font-style="italic" textLength="8.00" lengthAdjust="spacingAndGlyphs">p</text>
<text x="30.10" y="3.80" font-size="7.5" font-style="italic" textLength="5.30" lengthAdjust="spacingAndGlyphs">T</text>
<text x="29.90" y="-4.30" font-size="7.0" textLength="11.60" lengthAdjust="spacingAndGlyphs">cut</text>
<text x="43.20" y="0.40" font-size="11.899999999999999" textLength="4.20" lengthAdjust="spacingAndGlyphs">)</text>
<path d="M55.60,-8.80 H53.70 V3.00 H55.60" fill="none" stroke="#1c1c1c" stroke-width="1.0"/>
<text x="56.60" y="0.00" font-size="10.7" textLength="13.00" lengthAdjust="spacingAndGlyphs">pb</text>
<path d="M70.70,-8.80 H72.60 V3.00 H70.70" fill="none" stroke="#1c1c1c" stroke-width="1.0"/>
</g>
</g>
</svg>
</body></html>
